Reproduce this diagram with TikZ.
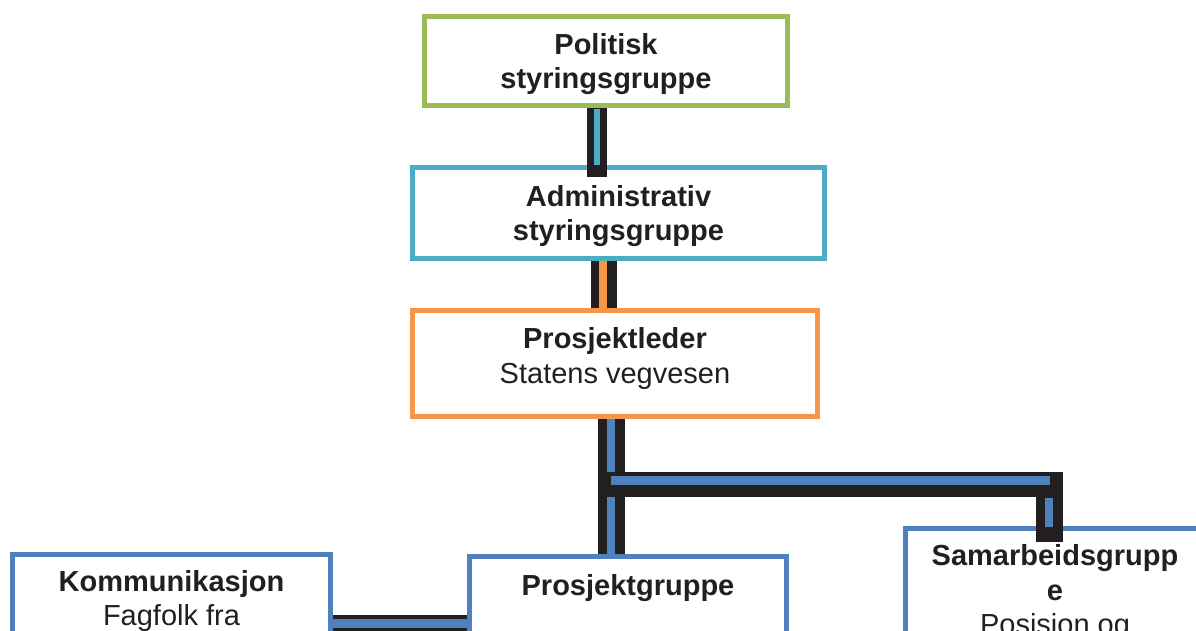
\documentclass[tikz,border=0pt]{standalone}
\usepackage{fontspec}
\setmainfont{Liberation Sans}
\usepackage{tikz}
\usetikzlibrary{backgrounds}
\usepackage{xcolor}
\definecolor{ink}{HTML}{231F20}
\definecolor{polgreen}{HTML}{9BBB59}
\definecolor{admcyan}{HTML}{4BACC6}
\definecolor{leadorange}{HTML}{F79646}
\definecolor{groupblue}{HTML}{4F81BD}
\tikzstyle{box}=[draw, line width=5pt, inner sep=0pt]
\tikzstyle{boxtext}=[inner sep=0pt, align=center, text=ink, font=\fontsize{29}{34.5}\selectfont]
\tikzstyle{wire}=[ink, line cap=butt]

\begin{document}
\begin{tikzpicture}[x=1pt, y=1pt]
	\clip (0,0) rectangle (1196,631);
	\useasboundingbox (0,0) rectangle (1196,631);
%
	\node[box, draw=polgreen, minimum width=363, minimum height=89] (pol) at (606,570) {};
	\node[box, draw=admcyan, minimum width=412, minimum height=91] (adm) at (618.5,418) {};
	\node[box, draw=leadorange, minimum width=405, minimum height=106] (lead) at (615,267.5) {};
	\node[boxtext] (poltext) at ([yshift=-3]pol.center) {\bfseries Politisk\\ \bfseries styringsgruppe};
	\node[boxtext] (admtext) at ([yshift=-3]adm.center) {\bfseries Administrativ\\ \bfseries styringsgruppe};
	\node[boxtext] (leadtext) at ([yshift=5]lead.center) {\bfseries Prosjektleder\\ Statens vegvesen};
%
	\node[box, draw=groupblue, anchor=north, minimum width=317.5, minimum height=250] (gruppe) at (628,77) {};
	\node[box, draw=groupblue, anchor=north, minimum width=318, minimum height=250] (komm) at (171.5,78.5) {};
	\node[box, draw=groupblue, anchor=north, minimum width=299, minimum height=250] (samarb) at (1055,104.5) {};
	\node[boxtext, anchor=north] (grtext) at ([yshift=-20]gruppe.north) {\bfseries Prosjektgruppe};
	\node[boxtext, anchor=north] (kommtext) at ([yshift=-17.5]komm.north) {\bfseries Kommunikasjon\\ Fagfolk fra};
	\node[boxtext, anchor=north] (samtext) at ([yshift=-18]samarb.north) {\bfseries Samarbeidsgrupp\\ \bfseries e\\ Posisjon og};
%
	\coordinate (fork) at (611.5,146.5);
	\coordinate (drop) at (1049.5,146.5);
%
	\begin{scope}[on background layer]
		\draw[wire, line width=26pt] ([xshift=-14.5]adm.south) -- ([xshift=-14.5]adm.south |- lead.north);
		\draw[leadorange, line width=8pt] ([xshift=-15.5]adm.south) -- ([xshift=-15.5]adm.south |- lead.north);
		\draw[wire, line width=27pt] ([xshift=-3.5]lead.south) -- ([xshift=-3.5]lead.south |- gruppe.north);
		\draw[groupblue, line width=8pt] ([xshift=-4]lead.south) -- ([xshift=-4]lead.south |- gruppe.north);
		\draw[wire, line width=17pt] ([yshift=-71]komm.north east) -- ([yshift=-71]komm.north east -| gruppe.west);
		\draw[groupblue, line width=9pt] ([yshift=-71]komm.north east) -- ([yshift=-71]komm.north east -| gruppe.west);
	\end{scope}
%
	\draw[wire, line width=20pt, shorten >=-12.5pt] ([xshift=-9]pol.south) -- ([xshift=-9]pol.south |- adm.north);
	\draw[admcyan, line width=6.5pt, shorten <=1.5pt] ([xshift=-9]pol.south) -- ([xshift=-9]pol.south |- adm.north);
%
	\draw[wire, line width=25.5pt] ([xshift=-13.5]fork) -- ([xshift=13.5]drop);
	\draw[wire, line width=27pt] ([yshift=12.5]drop) -- ([yshift=-57.5]drop);
	\draw[groupblue, line width=9pt] ([xshift=-0.5,yshift=4]fork) -- ([xshift=0.5,yshift=4]drop);
	\draw[groupblue, line width=8pt] ([xshift=-0.5,yshift=-13.5]drop) -- ([xshift=-0.5,yshift=-42.5]drop);
\end{tikzpicture}
\end{document}
